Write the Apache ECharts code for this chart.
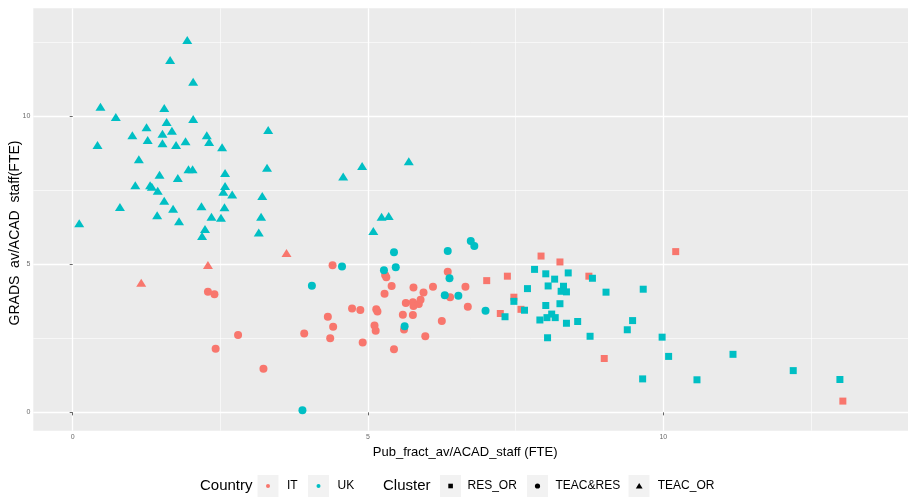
<!DOCTYPE html>
<html>
<head>
<meta charset="utf-8">
<script src="https://cdn.jsdelivr.net/npm/echarts/dist/echarts.min.js"></script>
<style>
  html, body { margin: 0; padding: 0; background: #fff; }
  #chart { width: 908px; height: 497px; }
</style>
</head>
<body>
<div id="chart"></div>
<script>
// ---- data ----
const xTicks = [0, 5, 10];
const yTicks = [0, 5, 10];
const countries = ['IT', 'UK'];
const clusters = ['RES_OR', 'TEAC&RES', 'TEAC_OR'];

const ukTeacOr = [
  [1.94,12.58],[1.65,11.90],[2.04,11.17],[0.47,10.32],[1.55,10.28],[0.73,9.98],[2.04,9.91],[1.59,9.81],
  [1.25,9.63],[1.68,9.51],[1.52,9.41],[1.01,9.36],[2.27,9.36],[3.31,9.54],[1.27,9.20],[1.52,9.09],
  [1.91,9.16],[2.31,9.13],[1.75,9.03],[0.42,9.03],[2.53,8.96],[1.12,8.55],[1.96,8.21],[2.03,8.21],
  [3.29,8.26],[1.47,8.03],[2.58,8.09],[1.78,7.92],[1.06,7.67],[1.31,7.67],[1.34,7.62],[1.44,7.49],
  [2.58,7.65],[2.55,7.45],[2.70,7.36],[3.21,7.31],[1.55,7.15],[0.80,6.94],[1.70,6.88],[2.18,6.96],
  [2.57,6.93],[1.43,6.66],[2.35,6.61],[2.51,6.57],[3.19,6.61],[1.80,6.46],[0.11,6.39],[2.24,6.19],
  [3.15,6.08],[2.19,5.96],[4.58,7.97],[4.90,8.32],[5.69,8.48],[5.23,6.61],[5.35,6.63],[5.09,6.13]
];
const itTeacOr = [[1.16,4.38],[2.29,4.98],[3.62,5.38]];
const itTeacRes = [
  [2.29,4.07],[2.40,3.99],[2.80,2.61],[2.42,2.15],[3.23,1.47],[3.92,2.66],[4.40,4.97],[4.32,3.23],
  [4.41,2.89],[4.36,2.50],[4.73,3.51],[4.87,3.46],[4.91,2.36],[5.14,3.48],[5.16,3.41],[5.11,2.93],
  [5.13,2.76],[5.29,4.64],[5.31,4.56],[5.40,4.27],[5.28,4.01],[5.44,2.13],[5.61,2.80],[5.59,3.30],
  [5.64,3.69],[5.76,3.72],[5.77,4.22],[5.76,3.29],[5.77,3.59],[5.86,3.66],[5.89,3.80],[5.94,4.05],
  [5.97,2.57],[6.10,4.24],[6.25,3.09],[6.35,4.75],[6.39,3.89],[6.65,4.24],[6.69,3.57]
];
const ukTeacRes = [
  [3.89,0.07],[4.05,4.28],[4.56,4.93],[5.27,4.80],[5.44,5.41],[5.47,4.90],[5.62,2.91],[6.35,5.45],
  [6.38,4.53],[6.30,3.96],[6.53,3.94],[6.74,5.79],[6.80,5.62],[6.99,3.43]
];
const itResOr = [
  [7.01,4.45],[7.36,4.60],[7.47,3.89],[7.24,3.34],[7.59,3.48],[7.93,5.28],[8.25,5.08],[8.74,4.60],
  [9.00,1.82],[10.21,5.43],[13.04,0.38]
];
const ukResOr = [
  [7.47,3.75],[7.32,3.23],[7.65,3.45],[7.82,4.83],[8.01,4.68],[8.16,4.50],[8.39,4.71],[7.70,4.18],
  [8.05,4.27],[8.31,4.26],[8.27,4.09],[8.36,4.07],[8.01,3.61],[8.25,3.67],[8.11,3.32],[7.91,3.12],
  [8.03,3.20],[8.17,3.20],[8.36,3.01],[8.55,3.07],[8.04,2.52],[8.76,2.57],[8.80,4.53],[9.03,4.06],
  [9.39,2.79],[9.48,3.10],[9.66,4.16],[9.65,1.13],[9.98,2.54],[10.09,1.89],[10.57,1.10],[11.18,1.96],
  [12.20,1.41],[12.99,1.11]
];

// ---- styles ----
const FONT = '"Liberation Sans", Arial, Helvetica, sans-serif';
const countryColor = { IT: '#F8766D', UK: '#00BFC4' };
const clusterSymbol = { 'RES_OR': 'rect', 'TEAC&RES': 'circle', 'TEAC_OR': 'triangle' };
const clusterSize = { 'RES_OR': 7, 'TEAC&RES': 8, 'TEAC_OR': [10, 8] };

const groups = [
  { country: 'UK', cluster: 'TEAC_OR', data: ukTeacOr },
  { country: 'IT', cluster: 'TEAC_OR', data: itTeacOr },
  { country: 'IT', cluster: 'TEAC&RES', data: itTeacRes },
  { country: 'UK', cluster: 'TEAC&RES', data: ukTeacRes },
  { country: 'IT', cluster: 'RES_OR', data: itResOr },
  { country: 'UK', cluster: 'RES_OR', data: ukResOr }
];

const series = groups.map(g => ({
  name: g.country + ' ' + g.cluster,
  type: 'scatter',
  data: g.data,
  symbol: clusterSymbol[g.cluster],
  symbolSize: clusterSize[g.cluster],
  itemStyle: { color: countryColor[g.country], opacity: 1 },
  silent: true,
  animation: false
}));

function axisBase(ticks) {
  return {
    type: 'value',
    minInterval: 5,
    maxInterval: 5,
    axisLine: { show: false },
    axisTick: { show: true, length: 3, lineStyle: { color: '#666', width: 1 }, customValues: ticks },
    axisLabel: { customValues: ticks, fontSize: 7, color: '#6b6b6b', fontFamily: FONT, margin: 3 },
    splitLine: { show: true, showMinLine: true, showMaxLine: true, lineStyle: { color: '#ffffff', width: 1.3 } },
    minorTick: { show: false, splitNumber: 2 },
    minorSplitLine: { show: true, lineStyle: { color: '#ffffff', width: 0.6 } },
    nameLocation: 'middle',
    nameMoveOverlap: false
  };
}

// legend drawn as graphic (ggplot-style keys)
const LY = 486;
function keyRect(x) {
  return { type: 'rect', shape: { x: x, y: 475, width: 21, height: 22 }, style: { fill: '#F2F2F2' }, silent: true };
}
function label(t, x, size) {
  return { type: 'text', x: x, y: LY, style: { text: t, font: size + 'px ' + FONT, fill: '#000', textVerticalAlign: 'middle', textAlign: 'left' }, silent: true };
}
const graphic = [
  label('Country', 200, 15),
  keyRect(257.5),
  { type: 'circle', shape: { cx: 268, cy: LY, r: 2 }, style: { fill: countryColor.IT }, silent: true },
  label(countries[0], 287, 12),
  keyRect(308),
  { type: 'circle', shape: { cx: 318.5, cy: LY, r: 2 }, style: { fill: countryColor.UK }, silent: true },
  label(countries[1], 337.5, 12),
  label('Cluster', 383, 15),
  keyRect(440),
  { type: 'rect', shape: { x: 448.3, y: LY - 2.3, width: 4.6, height: 4.6 }, style: { fill: '#000' }, silent: true },
  label(clusters[0], 467.5, 12),
  keyRect(527),
  { type: 'circle', shape: { cx: 537.5, cy: LY, r: 2.6 }, style: { fill: '#000' }, silent: true },
  label(clusters[1], 555.5, 12),
  keyRect(628.5),
  { type: 'polygon', shape: { points: [[639.2, LY - 3], [642.6, LY + 2.6], [635.8, LY + 2.6]] }, style: { fill: '#000' }, silent: true },
  label(clusters[2], 657.7, 12)
];

const chart = echarts.init(document.getElementById('chart'), null, { renderer: 'canvas' });
chart.setOption({
  animation: false,
  backgroundColor: '#ffffff',
  grid: { left: 33.3, top: 8.3, right: 0, bottom: 66.3, show: true, backgroundColor: '#EBEBEB', borderWidth: 0, containLabel: false, outerBoundsMode: 'none' },
  xAxis: Object.assign(axisBase(xTicks), {
    min: -0.667, max: 14.143,
    name: 'Pub_fract_av/ACAD_staff (FTE)',
    nameGap: 15,
    nameTextStyle: { fontSize: 13, color: '#000', fontFamily: FONT, padding: [0, 11, 0, 0] }
  }),
  yAxis: Object.assign(axisBase(yTicks), {
    min: -0.62, max: 13.65,
    name: 'GRADS  av/ACAD  staff(FTE)',
    nameGap: 11,
    nameTextStyle: { fontSize: 14, color: '#000', fontFamily: FONT, padding: [0, 27, 0, 0] }
  }),
  graphic: graphic,
  series: series
});
</script>
</body>
</html>
